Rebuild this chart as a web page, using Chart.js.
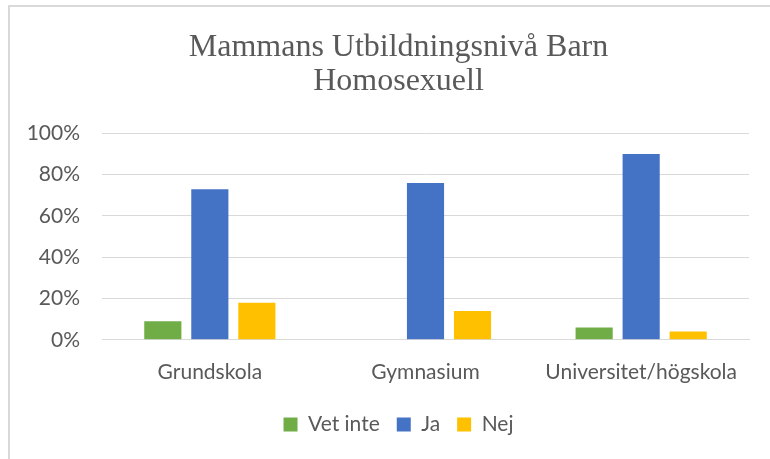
<!DOCTYPE html>
<html>
<head>
<meta charset="utf-8">
<script src="https://cdn.jsdelivr.net/npm/chart.js@4.4.0/dist/chart.umd.min.js"></script>
<style>
  html, body { margin: 0; padding: 0; background: #fff; overflow: hidden; }
  #wrap { position: relative; width: 770px; height: 459px; }
  #frame { position: absolute; left: 8px; top: 5px; right: -10px; bottom: -10px; border-top: 2px solid #d9d9d9; border-left: 2px solid #d9d9d9; pointer-events: none; }
  canvas { position: absolute; left: 0; top: 0; }
</style>
</head>
<body>
<div id="wrap">
  <canvas id="chart" width="770" height="459"></canvas>
  <div id="frame"></div>
</div>
<script>
// categories and series (share of answers, %)
const categories = ['Grundskola', 'Gymnasium', 'Universitet/högskola'];
const vetInte = [9, 0, 6];
const ja = [73, 76, 90];
const nej = [18, 14, 4];
const yTicks = [0, 20, 40, 60, 80, 100];

const grey = '#595959';
const labelFont = { family: 'Lato, "Open Sans", sans-serif', size: 21 };

// the original centres title and legend over the whole frame, not the padded box
const shiftHeader = {
    id: 'shiftHeader',
    afterLayout(chart) {
        const dx = 14;
        [chart.titleBlock, chart.legend].forEach(b => {
            if (b) { b.left += dx; b.right += dx; }
        });
    }
};

const ctx = document.getElementById('chart').getContext('2d');
new Chart(ctx, {
    type: 'bar',
    data: {
        labels: categories,
        datasets: [
            { label: 'Vet inte', data: vetInte, backgroundColor: '#70ad47' },
            { label: 'Ja', data: ja, backgroundColor: '#4472c4' },
            { label: 'Nej', data: nej, backgroundColor: '#ffc000' }
        ]
    },
    options: {
        responsive: false,
        animation: false,
        layout: { padding: { top: 18, left: 20, right: 21, bottom: 14 } },
        datasets: { bar: { categoryPercentage: 0.654, barPercentage: 0.79, borderWidth: 0 } },
        plugins: {
            title: {
                display: true,
                text: ['Mammans Utbildningsnivå Barn', 'Homosexuell'],
                color: grey,
                font: { family: '"Liberation Serif", "Times New Roman", serif', size: 32, weight: 'normal', lineHeight: 1.085 },
                padding: { top: 12, bottom: 34 }
            },
            legend: {
                position: 'bottom',
                labels: { color: grey, font: labelFont, boxWidth: 14, boxHeight: 14, padding: 17 }
            },
            tooltip: { enabled: false }
        },
        scales: {
            x: {
                grid: { display: false },
                border: { color: '#d9d9d9', width: 1 },
                ticks: { color: grey, font: labelFont, padding: 12, maxRotation: 0 }
            },
            y: {
                min: 0, max: 100,
                afterBuildTicks: (s) => { s.ticks = yTicks.map(v => ({ value: v })); },
                afterFit: (s) => { s.width = 82; },
                grid: { color: '#d9d9d9', lineWidth: 1, drawTicks: false },
                border: { display: false },
                ticks: { color: grey, font: labelFont, padding: 22, callback: (v) => v + '%' }
            }
        }
    },
    plugins: [shiftHeader]
});
</script>
</body>
</html>
